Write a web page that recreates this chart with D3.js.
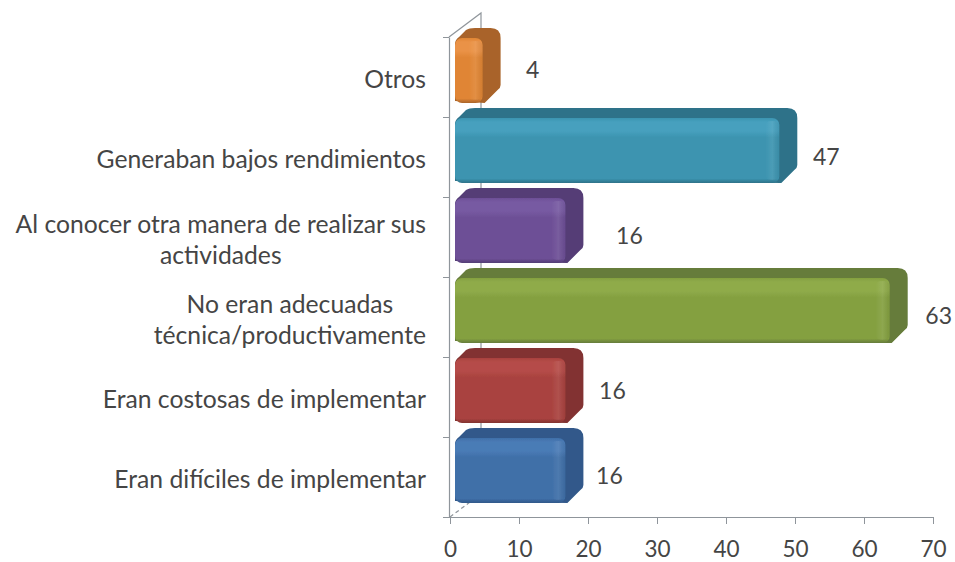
<!DOCTYPE html>
<head>
    <meta charset="utf-8">
    <script src="https://d3js.org/d3.v7.min.js"></script>
    <style>
        body { margin: 0; background: #fff; }
        svg { display: block; }
        text { font-family: Lato, "Open Sans", sans-serif; fill: #454545; }
    </style>
</head>
<body>
    <script>
        // bottom to top, same order as the chart's category axis
        const categories = ["dificiles", "costosas", "tecnica", "otraManera", "rendimientos", "otros"];
        const labelLines = [
            ["Eran difíciles de implementar"],
            ["Eran costosas de implementar"],
            ["No eran adecuadas", "técnica/productivamente"],
            ["Al conocer otra manera de realizar sus", "actividades"],
            ["Generaban bajos rendimientos"],
            ["Otros"]
        ];
        const values = [16, 16, 63, 16, 47, 4];
        const xTicks = [0, 10, 20, 30, 40, 50, 60, 70];
        // the value labels were dragged by hand in the original
        const labelNudgeX = [49, 52, 54, 69, 52, 55];
        const labelNudgeY = [-1, -6, -1, -1, 0, -7];
        // main, light, dark side
        const mainColors = ["#3f6fa8", "#a9423f", "#84a040", "#6d4f96", "#3c94b0", "#e08534"];
        const lightColors = ["#4a7bb6", "#b54c48", "#8fab4a", "#775aa2", "#46a0be", "#ea9246"];
        const darkColors = ["#30588a", "#823331", "#667c3b", "#543d76", "#2e7289", "#a9642a"];

        const width = 955, height = 562;
        const x = d3.scaleLinear().domain([0, 70]).range([450, 933]);
        const y = d3.scaleBand().domain(categories).range([517, 37]);
        const depthX = 32, depthY = 24;   // back wall offset
        const barDx = 18, barDy = 10;     // bar depth

        const svg = d3.select("body").append("svg")
            .attr("width", width).attr("height", height);
        const defs = svg.append("defs");

        defs.append("filter").attr("id", "soft")
            .append("feGaussianBlur").attr("stdDeviation", 0.6);

        categories.forEach((c, i) => {
            const g = defs.append("linearGradient").attr("id", "front" + i)
                .attr("x1", 0).attr("x2", 0).attr("y1", 0).attr("y2", 1);
            [[0, mainColors[i]], [0.06, lightColors[i]], [0.2, lightColors[i]], [0.3, mainColors[i]],
             [0.93, mainColors[i]], [1, darkColors[i]]].forEach(s => {
                g.append("stop").attr("offset", s[0]).attr("stop-color", s[1]);
            });
        });
        const edge = defs.append("linearGradient").attr("id", "edge")
            .attr("x1", 0).attr("x2", 1).attr("y1", 0).attr("y2", 0);
        edge.append("stop").attr("offset", 0).attr("stop-color", "#fff").attr("stop-opacity", 0);
        edge.append("stop").attr("offset", 0.5).attr("stop-color", "#fff").attr("stop-opacity", 0.08);
        edge.append("stop").attr("offset", 1).attr("stop-color", "#000").attr("stop-opacity", 0.06);

        // walls
        const wall = svg.append("g").attr("fill", "none").attr("stroke", "#8f959b").attr("stroke-width", 1.2);
        wall.append("path").attr("d", d3.line()([
            [x(0) - 1, y.range()[1]],
            [x(0) - 1 + depthX, y.range()[1] - depthY],
            [x(0) - 1 + depthX, y.range()[0] - depthY]
        ]));
        wall.append("path").attr("stroke-dasharray", "4 3").attr("d", d3.line()([
            [x(0), y.range()[0]],
            [x(0) + depthX, y.range()[0] - depthY]
        ]));

        // axes
        const axisX = svg.append("g").attr("transform", `translate(0,${y.range()[0]})`)
            .call(d3.axisBottom(x).tickValues(xTicks).tickSize(7).tickSizeOuter(0).tickPadding(17));
        axisX.select(".domain").attr("d", `M${x(0) - 7},0.5H${x(70)}`);
        const axisY = svg.append("g").attr("transform", `translate(${x(0) - 1},0)`)
            .call(d3.axisLeft(d3.scaleLinear().domain([0, 6]).range(y.range()))
                .ticks(6).tickSize(6).tickSizeOuter(0).tickFormat(""));
        svg.selectAll(".domain").attr("stroke", "#8f959b").attr("stroke-width", 1.2);
        svg.selectAll(".tick line").attr("stroke", "#8f959b");
        axisX.selectAll("text").attr("font-size", 22.5).style("font-family", "Lato").style("fill", "#454545");

        // bars
        const bars = svg.append("g").attr("filter", "url(#soft)")
            .selectAll("g").data(categories).enter().append("g");

        const frontLeft = x(0) + 5;
        const frontRight = i => x(values[i]) + 5;
        const frontTop = d => y(d) + 1;
        const frontBottom = d => y(d) + y.bandwidth() - 14;

        bars.append("path")
            .attr("fill", (d, i) => darkColors[i])
            .attr("d", (d, i) => {
                const l = frontLeft, r = frontRight(i), t = frontTop(d), b = frontBottom(d);
                const bx = r + barDx, by = t - barDy;
                return `M ${l} ${b - 2} L ${l} ${t + 6} Q ${l} ${t + 2} ${l + 4} ${t - 1} ` +
                    `L ${l + 11} ${by + 2} Q ${l + 14} ${by} ${l + 20} ${by} ` +
                    `L ${bx - 10} ${by} Q ${bx} ${by} ${bx} ${by + 10} ` +
                    `L ${bx} ${b - 18} Q ${bx} ${b - 15} ${bx - 3} ${b - 13} L ${r + 2} ${b} Z`;
            });
        bars.append("rect")
            .attr("x", frontLeft)
            .attr("y", frontTop)
            .attr("width", (d, i) => frontRight(i) - frontLeft)
            .attr("height", d => frontBottom(d) - frontTop(d))
            .attr("rx", 7)
            .attr("fill", (d, i) => `url(#front${i})`);
        // bevel on the end of the bar
        bars.append("rect")
            .attr("x", (d, i) => frontRight(i) - 14)
            .attr("y", d => frontTop(d) + 3)
            .attr("width", 14)
            .attr("height", d => frontBottom(d) - frontTop(d) - 6)
            .attr("rx", 5)
            .attr("fill", "url(#edge)");

        // value labels
        svg.append("g").selectAll("text").data(categories).enter().append("text")
            .attr("x", (d, i) => x(values[i]) + labelNudgeX[i])
            .attr("y", (d, i) => y(d) + y.bandwidth() / 2 + labelNudgeY[i])
            .attr("dy", "0.35em")
            .attr("text-anchor", "middle")
            .attr("font-size", 23)
            .text((d, i) => values[i]);

        // category labels, centred lines under a right-aligned block
        const catLabels = svg.append("g").selectAll("text").data(categories).enter().append("text")
            .attr("font-size", 24.7)
            .attr("text-anchor", "middle");
        catLabels.each(function (d, i) {
            const lines = labelLines[i];
            const t = d3.select(this);
            const spans = lines.map((line, j) => t.append("tspan").attr("dy", j ? 31 : 0).text(line));
            const w = d3.max(spans, s => s.node().getComputedTextLength());
            const cx = 426 - w / 2;
            spans.forEach(s => s.attr("x", cx));
            t.attr("y", y(d) + y.bandwidth() / 2 - (lines.length - 1) * 15.5 + 11);
        });
    </script>
</body>
